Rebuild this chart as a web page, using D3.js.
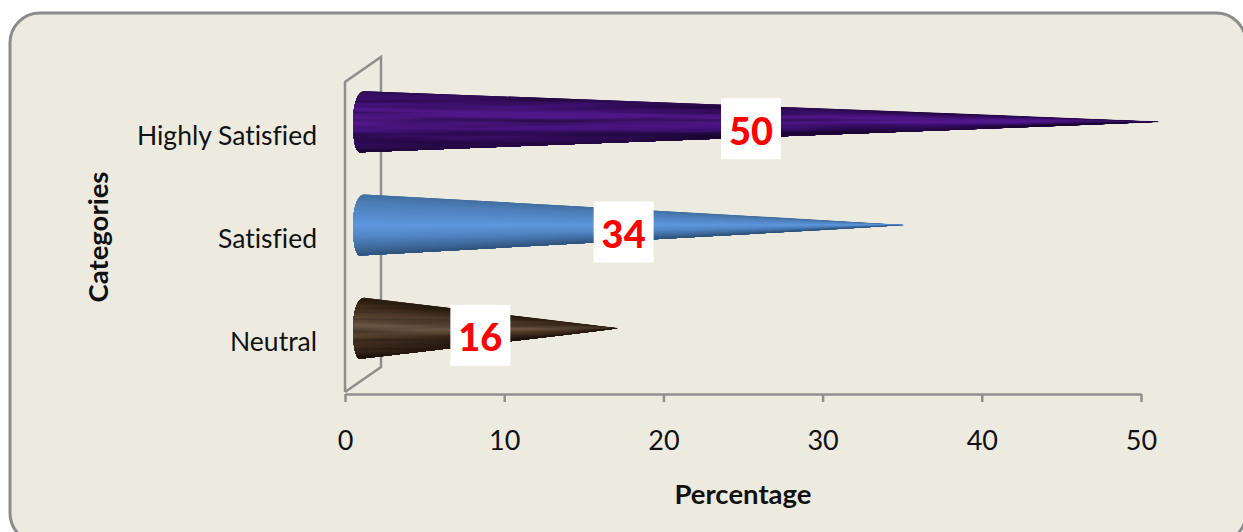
<!DOCTYPE html>
<html>
<head>
<meta charset="utf-8">
<script src="https://cdn.jsdelivr.net/npm/d3@7/dist/d3.min.js"></script>
<style>
html,body{margin:0;padding:0;background:#fff;overflow:hidden}
svg{display:block}
text{font-family:Lato,"Noto Sans",sans-serif;fill:#111;font-variant-ligatures:none}
</style>
</head>
<body>
<svg id="chart" width="1243" height="532"></svg>
<script>
const categories = ["Highly Satisfied", "Satisfied", "Neutral"];
const percentages = [50, 34, 16];
const xTicks = [0, 10, 20, 30, 40, 50];
// Shading across each cone, from its upper edge to its lower edge
const coneShades = [
  ["#2d0c50", "#3f1070", "#4f1788", "#55198f", "#44127a", "#2f0c58", "#220838"],
  ["#3f6a9a", "#4c7db6", "#5589cb", "#5e97dd", "#5287c6", "#3f6b9e", "#2b4a70"],
  ["#2c1c10", "#3f2c1c", "#574230", "#705b48", "#4c3726", "#35241a", "#1e120a"]
];
const streakStrength = [0.45, 0, 0.4];

const W = 1243, H = 532;
const svg = d3.select("#chart");
const defs = svg.append("defs");

const margin = {left: 345, right: 1141, top: 82, bottom: 392};
const depth = {x: 36, y: 25};
const coneShift = {x: 16, y: -12};
const rimRx = 8, rimRy = 30.5;
const wedgeCount = 48;

const x = d3.scaleLinear().domain([0, 50]).range([margin.left, margin.right]);
const y = d3.scaleBand().domain(categories).range([margin.top, margin.bottom]);

// Rounded panel behind the chart
svg.append("rect")
  .attr("x", 10).attr("y", 13).attr("width", 1236).attr("height", 530)
  .attr("rx", 30).attr("ry", 30)
  .attr("fill", "#edebe0").attr("stroke", "#8c8c8c").attr("stroke-width", 3);

// Back wall and floor of the 3D plot box
const wallColor = "#8f8f8f";
svg.append("path")
  .attr("fill", "none").attr("stroke", wallColor).attr("stroke-width", 2.5)
  .attr("d", `M${margin.left},${margin.bottom} V${margin.top} L${margin.left + depth.x},${margin.top - depth.y} V${margin.bottom - depth.y} L${margin.left},${margin.bottom}`);

// Horizontal streak texture shared by the wood-like fills
const streak = defs.append("filter").attr("id", "streaks")
  .attr("filterUnits", "userSpaceOnUse")
  .attr("x", 0).attr("y", 0).attr("width", W).attr("height", H);
streak.append("feTurbulence")
  .attr("type", "fractalNoise").attr("baseFrequency", "0.005 0.16")
  .attr("numOctaves", 2).attr("seed", 7);
streak.append("feColorMatrix").attr("type", "matrix")
  .attr("values", "0 0 0 0 0  0 0 0 0 0  0 0 0 0 0  2.4 0 0 0 -0.95");

function coneOutline(value, cat) {
  const cy = y(cat) + y.bandwidth() / 2 + coneShift.y;
  const bx = x(0) + coneShift.x;
  const tip = x(value) + coneShift.x + 1.5;
  return `M${bx + 3},${cy - rimRy} L${tip},${cy - 0.5} L${tip},${cy + 0.5} L${bx - 1},${cy + rimRy} ` +
         `C${bx - 6},${cy + rimRy} ${bx - rimRx},${cy + 15} ${bx - rimRx},${cy} ` +
         `C${bx - rimRx},${cy - 15} ${bx - 4},${cy - rimRy} ${bx + 3},${cy - rimRy} Z`;
}

const cones = svg.append("g").selectAll("g")
  .data(categories).join("g");

cones.each(function (cat, i) {
  const g = d3.select(this);
  const cy = y(cat) + y.bandwidth() / 2 + coneShift.y;
  const bx = x(0) + coneShift.x;
  const tip = x(percentages[i]) + coneShift.x + 1.5;
  defs.append("clipPath").attr("id", "coneClip" + i)
    .append("path").attr("d", coneOutline(percentages[i], cat));

  const body = g.append("g").attr("clip-path", `url(#coneClip${i})`);
  const shade = d3.piecewise(d3.interpolateRgb, coneShades[i]);
  const backX = bx - rimRx - 2;
  const spread = (rimRy + 3) * (tip - backX) / (tip - bx);

  // A fan from the tip, painted top down so each wedge covers the seam of the one before
  body.selectAll("path")
    .data(d3.range(wedgeCount))
    .join("path")
    .attr("fill", k => shade((k + 0.5) / wedgeCount))
    .attr("d", k => {
      const a = cy - spread + 2 * spread * k / wedgeCount;
      return `M${tip + 1},${cy} L${backX},${a} L${backX},${cy + spread} Z`;
    });

  if (streakStrength[i] > 0) {
    body.append("rect")
      .attr("x", 0).attr("width", W)
      .attr("y", cy - rimRy - 2).attr("height", 2 * rimRy + 4)
      .attr("filter", "url(#streaks)")
      .attr("opacity", streakStrength[i]);
  }
});

// Value labels on white plates
const plateW = 60, plateH = 61;
const labels = svg.append("g").selectAll("g")
  .data(categories).join("g")
  .attr("transform", (cat, i) =>
    `translate(${x(percentages[i] / 2) + 8},${y(cat) + y.bandwidth() / 2 - 5})`);
labels.append("rect")
  .attr("x", -plateW / 2).attr("y", -plateH / 2)
  .attr("width", plateW).attr("height", plateH).attr("fill", "#fff");
labels.append("text")
  .attr("text-anchor", "middle").attr("y", 16)
  .style("font-size", "38px").style("font-weight", 900).style("fill", "#ff0000")
  .text((cat, i) => percentages[i]);

// Category labels
svg.append("g").selectAll("text")
  .data(categories).join("text")
  .attr("x", 317)
  .attr("y", cat => y(cat) + y.bandwidth() / 2 + 11)
  .attr("text-anchor", "end")
  .style("font-size", "26.5px")
  .text(d => d);

// Value axis along the floor
const axis = svg.append("g")
  .attr("transform", `translate(0,${margin.bottom + 2})`)
  .call(d3.axisBottom(x).tickValues(xTicks).tickSize(8).tickPadding(29).tickSizeOuter(0));
axis.select(".domain").attr("stroke", wallColor).attr("stroke-width", 2.5);
axis.selectAll("line").attr("stroke", wallColor).attr("stroke-width", 2.5);
axis.selectAll("text").style("font-size", "27px").style("font-family", "Lato,'Noto Sans',sans-serif").attr("fill", "#111");

// Axis titles
svg.append("text").attr("x", 743).attr("y", 504).attr("text-anchor", "middle")
  .style("font-size", "27.5px").style("font-weight", 700).text("Percentage");
svg.append("text").attr("transform", "translate(108,237) rotate(-90)").attr("text-anchor", "middle")
  .style("font-size", "27.5px").style("font-weight", 700).text("Categories");
</script>
</body>
</html>
